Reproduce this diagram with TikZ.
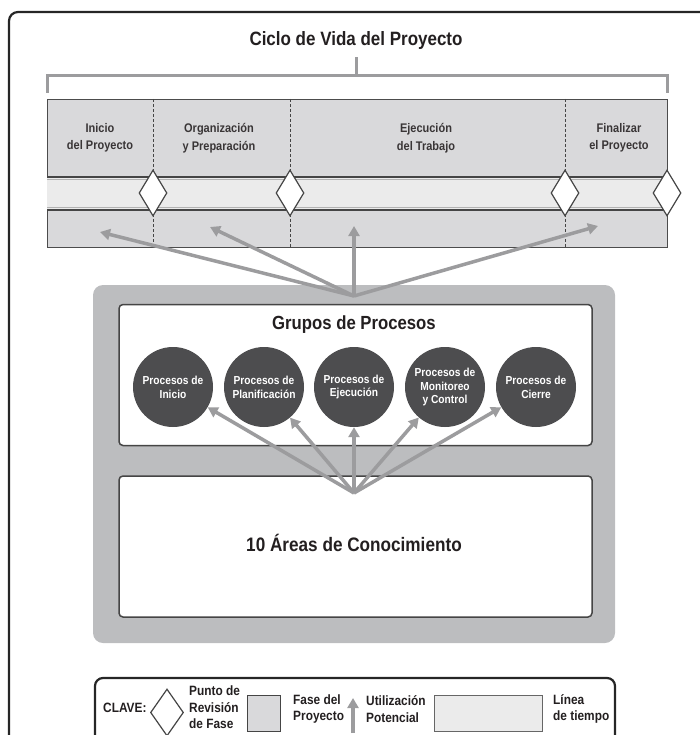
\documentclass[tikz,border=0pt]{standalone}
\usepackage{fontspec}
\setmainfont[FakeStretch=0.88]{Liberation Sans}
\usetikzlibrary{shapes.geometric}
\usetikzlibrary{arrows.meta}
\usetikzlibrary{positioning}

\definecolor{textgray}{HTML}{231F20}
\definecolor{arrowgray}{HTML}{9C9C9E}
\definecolor{phasegray}{HTML}{D9D9DB}
\definecolor{linegray}{HTML}{EBEBEB}
\definecolor{boxgray}{HTML}{BCBDBF}
\definecolor{circlegray}{HTML}{4D4D4F}
\definecolor{edgegray}{HTML}{454545}

\begin{document}
\begin{tikzpicture}[x=1pt, y=-1pt, text=textgray,
        review/.style={diamond, draw=edgegray, fill=white, line width=1.2pt,
            minimum width=28pt, minimum height=46pt, inner sep=0pt},
        potential/.style={draw=arrowgray, line width=3.5pt,
            -{Triangle[length=10pt, width=11pt]}},
        procgroup/.style={circle, fill=circlegray, minimum size=80pt, inner sep=0pt,
            text=white, align=center, font=\bfseries\fontsize{11.6}{13.8}\selectfont},
        phaselabel/.style={align=center, text=textgray!90,
            font=\bfseries\fontsize{12.5}{17.5}\selectfont},
        panel/.style={rectangle, draw=edgegray, fill=white, line width=1.5pt,
            rounded corners=4pt, minimum width=473pt, minimum height=141pt},
        keytext/.style={anchor=west, align=left, inner sep=0pt,
            font=\bfseries\fontsize{13.5}{16.5}\selectfont}]
        \useasboundingbox (0,0) rectangle (699,735);

        % Outer frame
        \draw[line width=2.2pt, draw=black!85, rounded corners=9pt] (9,760) -- (9,12) -- (730,12);

        % Life cycle title and bracket
        \node[font=\bfseries\fontsize{19.3}{22}\selectfont] (title) at (356,41) {Ciclo de Vida del Proyecto};
        \draw[draw=arrowgray, line width=3pt] (47,93) -- (47,76) -- (667,76) -- (667,93);
        \draw[draw=arrowgray, line width=3pt] (356,76) -- (356,57);

        % Phases and timeline
        \draw[fill=phasegray, draw=black!70, line width=0.8pt] (47,99) rectangle (667,247);
        \fill[linegray] (47,177) rectangle (667,210);
        \draw[black!30, line width=1.5pt] (47,179.5) -- (667,179.5);
        \draw[black!30, line width=1.5pt] (47,207.5) -- (667,207.5);
        \draw[edgegray, line width=1.8pt] (47,177) -- (667,177);
        \draw[edgegray, line width=1.8pt] (47,210) -- (667,210);
        \foreach \x in {153,290,565} {
            \draw[edgegray, line width=0.7pt, dash pattern=on 3pt off 2pt] (\x,99) -- (\x,247);
        }
        \foreach \x/\name in {153/rev1,290/rev2,565/rev3,667/rev4} {
            \node[review] (\name) at (\x,193) {};
        }
        \node[phaselabel] (init) at (100,138) {Inicio\\del Proyecto};
        \node[phaselabel] (prep) at (219,138) {Organización\\y Preparación};
        \node[phaselabel] (exec) at (426,138) {Ejecución\\del Trabajo};
        \node[phaselabel] (close) at (619,138) {Finalizar\\el Proyecto};

        % Process groups and knowledge areas
        \draw[fill=boxgray, draw=none, rounded corners=10pt] (93,285) rectangle (615,643);
        \node[panel] (groups) at (355.5,375) {};
        \node[panel] (areas) at (355.5,546.5) {};
        \node[font=\bfseries\fontsize{19}{22}\selectfont] (groupstitle) at (354,325) {Grupos de Procesos};
        \node[font=\bfseries\fontsize{19.5}{22}\selectfont] (areastitle) at (354,543) {10 Áreas de Conocimiento};
        \node[procgroup] (pinit) at (173,387) {Procesos de\\Inicio};
        \node[procgroup] (pplan) at (264,387) {Procesos de\\Planificación};
        \node[procgroup] (pexec) at (354,387) {Procesos de\\Ejecución};
        \node[procgroup] (pmon) at (445,387) {Procesos de\\Monitoreo\\y Control};
        \node[procgroup] (pclose) at (536,387) {Procesos de\\Cierre};

        % Potential use arrows
        \coordinate (tophub) at (354,296);
        \coordinate (useinit) at (100,232);
        \coordinate (useprep) at (210,227);
        \coordinate (useexec) at (354,226);
        \coordinate (useclose) at (598,226);
        \foreach \t in {useinit,useprep,useexec,useclose} {
            \draw[potential] (tophub) -- (\t);
        }
        \coordinate (areahub) at (354,493);
        \foreach \t in {pinit,pplan,pexec,pmon,pclose} {
            \draw[potential] (areahub) -- (\t);
        }

        % Key
        \node[draw=black!85, line width=2.2pt, rounded corners=8pt, minimum width=520pt,
            minimum height=78pt] (key) at (355,717) {};
        \node[keytext] (clave) at (103,708) {CLAVE:};
        \node[review, minimum width=33pt, minimum height=47pt] (keyreview) at (167,712.5) {};
        \node[keytext] (keyreviewtext) at (189,707.5) {Punto de\\Revisión\\de Fase};
        \node[draw=edgegray, fill=phasegray, line width=0.8pt, minimum width=33pt,
            minimum height=36pt] (keyphase) at (263.5,713) {};
        \node[keytext] (keyphasetext) at (293,709) {Fase del\\Proyecto};
        \coordinate (keyfoot) at (353,733);
        \coordinate (keytip) at (353,698);
        \draw[potential] (keyfoot) -- (keytip);
        \node[keytext] (keyusetext) at (366,709) {Utilización\\Potencial};
        \node[draw=black!60, fill=linegray, line width=0.8pt, minimum width=108pt,
            minimum height=36pt] (keyline) at (488,713) {};
        \node[keytext] (keylinetext) at (553,709) {Línea\\de tiempo};
    \end{tikzpicture}
\end{document}
